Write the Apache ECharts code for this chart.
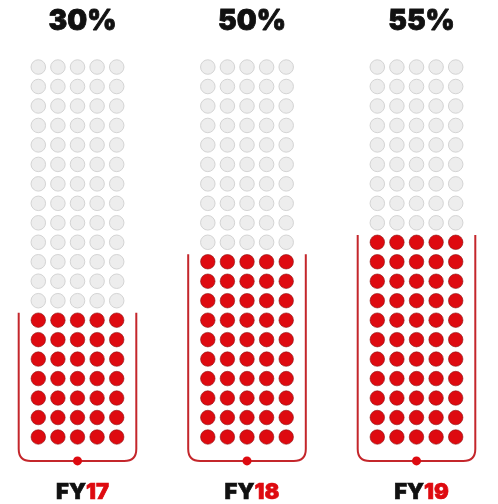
<!DOCTYPE html>
<html>
<head>
<meta charset="utf-8">
<script src="https://cdn.jsdelivr.net/npm/echarts@6/dist/echarts.min.js"></script>
<style>
html,body{margin:0;padding:0;background:#fff;}
#chart{width:498px;height:504px;}
</style>
</head>
<body>
<div id="chart"></div>
<script>
// ---- data ----
const categories = ['FY17', 'FY18', 'FY19'];
const yearPrefix = 'FY';
const yearSuffix = ['17', '18', '19'];
const percentLabels = ['30%', '50%', '55%'];
const filledDots = [35, 50, 55];
const totalDots = 100;
const dotsPerRow = 5;

// ---- layout ----
const centers = [77.5, 247, 416.5];
const dotStep = 19.6;
const RED = '#de0a10';
const LINE = '#c4262b';
const FONT = 'Inter, "Noto Sans", sans-serif';

const chart = echarts.init(document.getElementById('chart'), null, {renderer: 'canvas'});

const grids = [], xAxes = [], yAxes = [], series = [], titles = [];
categories.forEach((cat, g) => {
  const w = dotStep * (dotsPerRow + 1);
  grids.push({left: centers[g] - w / 2, width: w, top: 57.3, height: 408.9});
  xAxes.push({gridIndex: g, type: 'value', min: -1, max: dotsPerRow, show: false});
  yAxes.push({gridIndex: g, type: 'value', min: -1.5, max: totalDots / dotsPerRow - 0.5, show: false});
  const empty = [], full = [];
  for (let k = 0; k < totalDots; k++) {
    const p = [k % dotsPerRow, Math.floor(k / dotsPerRow)];
    (k < filledDots[g] ? full : empty).push(p);
  }
  series.push({
    type: 'scatter', xAxisIndex: g, yAxisIndex: g, data: empty, symbolSize: 14.5, silent: true,
    itemStyle: {color: '#ededed', borderColor: '#d4d4d4', borderWidth: 1, opacity: 1}
  });
  series.push({
    type: 'scatter', xAxisIndex: g, yAxisIndex: g, data: full, symbolSize: 14.5, silent: true,
    itemStyle: {color: RED, borderColor: 'rgba(140,20,20,0.6)', borderWidth: 1, opacity: 1}
  });
  const rows = Math.ceil(filledDots[g] / dotsPerRow);
  series.push({
    type: 'custom', xAxisIndex: g, yAxisIndex: g, silent: true,
    data: [[rows]],
    renderItem: function (params, api) {
      const topRow = api.value(0) - 1 + 0.38;
      const tl = api.coord([-1, topRow]);
      const bl = api.coord([-1, -1.23]);
      const br = api.coord([dotsPerRow, -1.23]);
      const mid = api.coord([(dotsPerRow - 1) / 2, -1.23]);
      const r = 12;
      const d = 'M' + tl[0] + ',' + tl[1] +
        ' L' + bl[0] + ',' + (bl[1] - r) +
        ' Q' + bl[0] + ',' + bl[1] + ' ' + (bl[0] + r) + ',' + bl[1] +
        ' L' + (br[0] - r) + ',' + br[1] +
        ' Q' + br[0] + ',' + br[1] + ' ' + br[0] + ',' + (br[1] - r) +
        ' L' + br[0] + ',' + tl[1];
      return {
        type: 'group',
        children: [
          {type: 'path', shape: {pathData: d}, style: {fill: 'none', stroke: LINE, lineWidth: 2}},
          {type: 'circle', shape: {cx: mid[0], cy: mid[1], r: 4.5}, style: {fill: RED}}
        ]
      };
    }
  });
  titles.push({
    text: percentLabels[g], left: centers[g], top: 3, textAlign: 'center',
    textStyle: {fontFamily: FONT, fontWeight: 900, fontSize: 28, color: '#111',
      textBorderColor: '#111', textBorderWidth: 0.8}
  });
  titles.push({
    text: '{a|' + yearPrefix + '}{b|' + yearSuffix[g] + '}', left: centers[g], top: 476, textAlign: 'center',
    textStyle: {
      rich: {
        a: {fontFamily: FONT, fontWeight: 900, fontSize: 22, color: '#111', textBorderColor: '#111', textBorderWidth: 0.6},
        b: {fontFamily: FONT, fontWeight: 900, fontSize: 22, color: RED, textBorderColor: RED, textBorderWidth: 0.6}
      }
    }
  });
});

chart.setOption({
  animation: false,
  backgroundColor: '#fff',
  title: titles,
  grid: grids,
  xAxis: xAxes,
  yAxis: yAxes,
  series: series
});
</script>
</body>
</html>
